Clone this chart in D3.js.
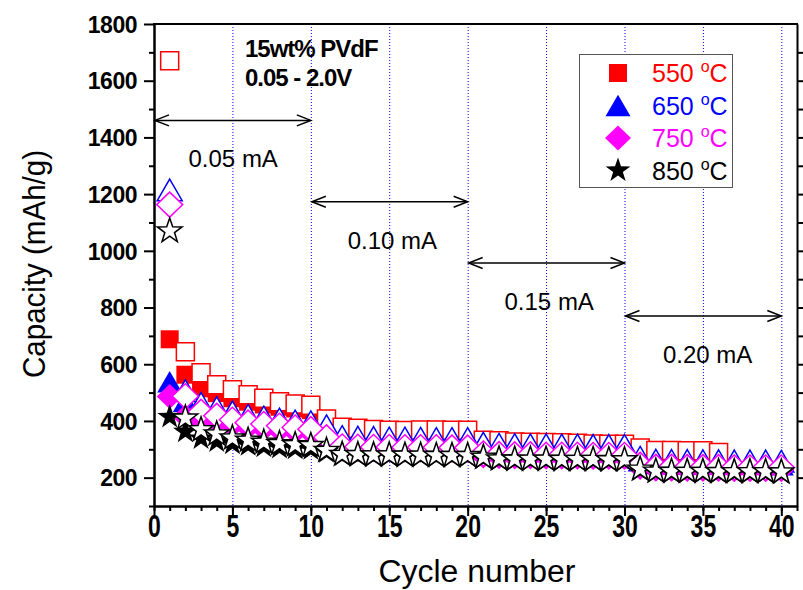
<!DOCTYPE html>
<html>
<head>
<meta charset="utf-8">
<script src="https://d3js.org/d3.v7.min.js"></script>
<style>
  body { margin: 0; background: #fff; }
  svg text { font-family: Arial, "Liberation Sans", sans-serif; }
</style>
</head>
<body>
<div id="chart"></div>
<script>
// ---- data ----
const seriesNames = ["550", "650", "750", "850"];
const seriesColors = ["#ff0000", "#0000ff", "#ff00ff", "#000000"];
const seriesShapes = ["square", "triangle", "diamond", "star"];

// open symbols / filled symbols
const open550 = [1670, 644, 570, 528, 510, 492, 480, 468, 460, 455, 407, 378, 374, 370, 367, 366, 368, 368, 367, 367,
                 332, 330, 326, 325, 324, 323, 321, 319, 318, 318, 305, 296, 296, 295, 295, 289];
const fill550 = [688, 563, 515, 498, 480, 468, 458, 450, 444, 438, 385, 360, 356, 352, 350, 350, 350, 350, 349, 349,
                 308, 305, 303, 302, 301, 300, 299, 298, 297, 297, 262, 258, 257, 256, 256, 254];
const open650 = [1215, 507, 462, 447, 432, 420, 414, 407, 400, 397, 383, 345, 343, 342, 340, 340, 339, 338, 338, 338,
                 322, 318, 317, 316, 316, 315, 315, 314, 314, 314, 272, 262, 261, 261, 260, 260, 259, 259, 259, 258];
const fill650 = [538, 470, 450, 435, 420, 408, 402, 395, 388, 385, 368, 333, 331, 330, 328, 328, 327, 326, 326, 326,
                 310, 306, 305, 304, 304, 303, 303, 302, 302, 302, 260, 250, 249, 249, 248, 248, 247, 247, 247, 246];
const open750 = [1163, 487, 432, 418, 404, 394, 389, 383, 377, 371, 342, 310, 309, 308, 308, 307, 307, 307, 306, 306,
                 285, 283, 282, 282, 281, 281, 281, 280, 280, 280, 245, 238, 238, 237, 237, 237, 236, 236, 236, 236];
const fill750 = [486, 415, 400, 395, 385, 377, 372, 367, 362, 358, 330, 300, 299, 298, 298, 297, 297, 297, 296, 296,
                 276, 274, 273, 273, 272, 272, 272, 271, 271, 271, 236, 230, 230, 229, 229, 229, 228, 228, 228, 228];
const open850 = [1070, 410, 369, 354, 340, 332, 325, 320, 316, 313, 296, 282, 281, 280, 280, 279, 279, 278, 278, 278,
                 272, 266, 265, 265, 265, 264, 264, 264, 263, 263, 230, 223, 222, 222, 222, 221, 221, 221, 221, 220];
const fill850 = [414, 362, 338, 328, 320, 314, 309, 305, 302, 300, 290, 278, 277, 276, 276, 275, 275, 274, 274, 274,
                 268, 262, 261, 261, 261, 260, 260, 260, 259, 259, 226, 219, 218, 218, 218, 217, 217, 217, 217, 216];

const openData = [open550, open650, open750, open850];
const fillData = [fill550, fill650, fill750, fill850];

const xTicks = [0, 5, 10, 15, 20, 25, 30, 35, 40];
const yTicks = [200, 400, 600, 800, 1000, 1200, 1400, 1600, 1800];

// current steps: [from cycle, to cycle, arrow capacity, label, label cycle]
const steps = [
  [0, 10, 1460, "0.05 mA", 5.05],
  [10, 20, 1173, "0.10 mA", 15.2],
  [20, 30, 957, "0.15 mA", 25.2],
  [30, 40, 770, "0.20 mA", 35.3]
];

// ---- layout ----
const width = 803, height = 590;
const x = d3.scaleLinear().domain([0, 41]).range([154, 797]);
const y = d3.scaleLinear().domain([100, 1800]).range([506, 24]);

const svg = d3.select("#chart").append("svg")
    .attr("width", width)
    .attr("height", height);

// dotted vertical grid
svg.append("g")
  .selectAll("line")
  .data(xTicks.filter(d => d > 0))
  .enter().append("line")
    .attr("x1", d => x(d) + 0.5).attr("x2", d => x(d) + 0.5)
    .attr("y1", y(1800)).attr("y2", y(100))
    .style("stroke", "#0000ff")
    .style("stroke-width", 1)
    .style("stroke-dasharray", "1,2");

// symbols
function symbolPath(shape) {
  if (shape === "square") return "M-9,-9H9V9H-9Z";
  if (shape === "triangle") return "M0,-10.8L12.5,10.8L-12.5,10.8Z";
  if (shape === "diamond") return "M0,-12.5L13,0L0,12.5L-13,0Z";
  // star
  const R = 13, r = 5.1;
  let p = [];
  for (let i = 0; i < 10; i++) {
    const a = -Math.PI / 2 + i * Math.PI / 5;
    const rr = i % 2 === 0 ? R : r;
    p.push([rr * Math.cos(a), rr * Math.sin(a)]);
  }
  return "M" + p.map(q => q[0].toFixed(2) + "," + q[1].toFixed(2)).join("L") + "Z";
}

const plot = svg.append("g");
seriesNames.forEach((name, i) => {
  const fillPts = fillData[i].map((v, k) => [k + 1, v]);
  const openPts = openData[i].map((v, k) => [k + 1, v]);
  plot.append("g").selectAll("path")
    .data(fillPts)
    .enter().append("path")
      .attr("d", symbolPath(seriesShapes[i]))
      .attr("transform", d => `translate(${x(d[0])},${y(d[1])})`)
      .style("fill", seriesColors[i])
      .style("stroke", "none");
  plot.append("g").selectAll("path")
    .data(openPts)
    .enter().append("path")
      .attr("d", symbolPath(seriesShapes[i]))
      .attr("transform", d => `translate(${x(d[0])},${y(d[1])})`)
      .style("fill", "#fff")
      .style("stroke", seriesColors[i])
      .style("stroke-width", 1.5);
});

// axes
const axisX = svg.append("g")
    .attr("transform", `translate(0,${y(100)})`)
    .call(d3.axisBottom(x).tickValues(xTicks).tickSize(10).tickSizeOuter(0).tickFormat(d3.format("d")));
svg.append("g")
    .attr("transform", `translate(0,${y(100)})`)
    .call(d3.axisBottom(x).tickValues(d3.range(0, 42, 1)).tickSize(5).tickSizeOuter(0).tickFormat(""));
axisX.selectAll("text")
    .attr("y", 0).attr("dy", null)
    .attr("transform", "translate(0,31) scale(1,1.4)")
    .style("font-size", "23px").style("font-weight", "bold").style("fill", "#000");

const axisY = svg.append("g")
    .attr("transform", `translate(${x(0)},0)`)
    .call(d3.axisLeft(y).tickValues(yTicks).tickSize(10).tickPadding(7).tickSizeOuter(0).tickFormat(d3.format("d")));
svg.append("g")
    .attr("transform", `translate(${x(0)},0)`)
    .call(d3.axisLeft(y).tickValues(d3.range(100, 1800, 200)).tickSize(5).tickSizeOuter(0).tickFormat(""));
axisY.selectAll("text")
    .attr("dy", "0.36em")
    .style("font-size", "23px").style("font-weight", "bold").style("fill", "#000")
    .style("letter-spacing", "-0.5px");

svg.append("g")
    .attr("transform", `translate(${x(41)},0)`)
    .call(d3.axisRight(y).tickValues(d3.range(200, 1800, 100)).tickSize(6).tickSizeOuter(0).tickFormat(""));

svg.append("line")
    .attr("x1", x(0) - 1).attr("x2", x(41) + 1)
    .attr("y1", y(1800)).attr("y2", y(1800))
    .style("stroke", "#000").style("stroke-width", 2);

svg.selectAll(".domain").style("stroke", "#000").style("stroke-width", 2);
svg.selectAll(".tick line").style("stroke", "#000").style("stroke-width", 2);

// axis titles
svg.append("text")
    .attr("x", 477).attr("y", 582)
    .attr("text-anchor", "middle")
    .attr("textLength", 197).attr("lengthAdjust", "spacingAndGlyphs")
    .style("font-size", "31px")
    .text("Cycle number");

svg.append("text")
    .attr("transform", "translate(45,264) rotate(-90)")
    .attr("text-anchor", "middle")
    .attr("textLength", 228).attr("lengthAdjust", "spacingAndGlyphs")
    .style("font-size", "31px")
    .text("Capacity (mAh/g)");

// current step arrows
const arr = svg.append("g");
steps.forEach(s => {
  const x1 = x(s[0]) + 1, x2 = x(s[1]), yy = y(s[2]);
  arr.append("line")
    .attr("x1", x1).attr("x2", x2).attr("y1", yy).attr("y2", yy)
    .style("stroke", "#000").style("stroke-width", 1.5);
  arr.append("path")
    .attr("d", `M${x1 + 14},${yy - 5.5}L${x1},${yy}L${x1 + 14},${yy + 5.5}`)
    .style("fill", "none").style("stroke", "#000").style("stroke-width", 1.5);
  arr.append("path")
    .attr("d", `M${x2 - 14},${yy - 5.5}L${x2},${yy}L${x2 - 14},${yy + 5.5}`)
    .style("fill", "none").style("stroke", "#000").style("stroke-width", 1.5);
  arr.append("text")
    .attr("x", x(s[4])).attr("y", yy + 47)
    .attr("text-anchor", "middle")
    .style("font-size", "24px")
    .text(s[3]);
});

// conditions note
svg.append("text")
    .attr("x", x(5.8)).attr("y", 57)
    .style("font-size", "24px").style("font-weight", "bold")
    .style("letter-spacing", "-1px")
    .text("15wt% PVdF");
svg.append("text")
    .attr("x", x(5.8)).attr("y", 86)
    .style("font-size", "24px").style("font-weight", "bold")
    .style("letter-spacing", "-1px")
    .text("0.05 - 2.0V");

// legend
const lg = svg.append("g");
lg.append("rect")
    .attr("x", 579.5).attr("y", 54.5).attr("width", 153).attr("height", 133)
    .style("fill", "#fff").style("stroke", "#555").style("stroke-width", 1);
seriesNames.forEach((name, i) => {
  const cy = 73 + i * 32.5;
  lg.append("path")
    .attr("d", symbolPath(seriesShapes[i]))
    .attr("transform", `translate(618,${cy})`)
    .style("fill", seriesColors[i]);
  const t = lg.append("text")
    .attr("x", 652).attr("y", cy + 9)
    .style("font-size", "25px")
    .style("fill", seriesColors[i]);
  t.append("tspan").text(name + " ");
  t.append("tspan").attr("dy", -10).style("font-size", "16px").text("o");
  t.append("tspan").attr("dy", 10).text("C");
});
</script>
</body>
</html>
